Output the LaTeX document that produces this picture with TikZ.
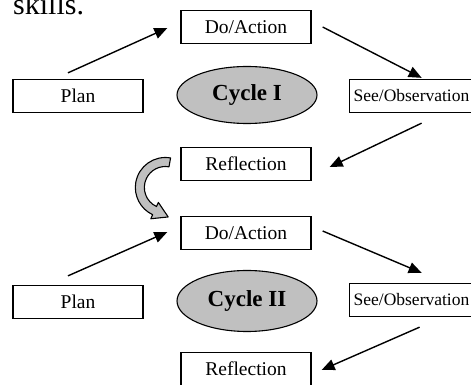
\documentclass[tikz,border=0pt]{standalone}
\usepackage{fontspec}
\setmainfont{Liberation Serif}
\usetikzlibrary{arrows.meta,shapes.geometric,calc}
\definecolor{shade}{HTML}{C0C0C0}
\tikzset{
  stage/.style={draw=black, line width=1.3pt, minimum width=130pt, minimum height=33pt, inner sep=2pt, font=\fontsize{19.5}{21}\selectfont},
  seen/.style ={stage, anchor=west, text width=124pt, align=left, inner xsep=4pt, font=\fontsize{17.5}{19}\selectfont},
  cyc/.style ={ellipse, draw=black, line width=1.1pt, fill=shade, minimum width=140pt, minimum height=57pt, inner sep=0pt, font=\fontsize{23}{25}\selectfont\bfseries},
  edge/.style={-{Triangle[length=13pt,width=11pt]}, line width=1.4pt},
  turn/.style={fill=shade, draw=black, line width=1.1pt, line join=round},
}
\begin{document}
\begin{tikzpicture}[x=1pt,y=1pt]
        \useasboundingbox (0,0) rectangle (471,385);
        \clip (0,0) rectangle (471,385);
        \node[anchor=base west, inner sep=0pt, font=\fontsize{30}{32}\selectfont] (head) at (13,370) {skills.};
        % cycle I
        \node[stage] (D1) at (246,358) {Do/Action};
        \node[stage] (P1) at (78,289)  {Plan};
        \node[cyc]   (C1) at (247,290) {Cycle I};
        \node[seen]  (S1) at (349,289) {See/Observation};
        \node[stage] (R1) at (246,221) {Reflection};
        % cycle II
        \node[stage] (D2) at (246,152) {Do/Action};
        \node[stage] (P2) at (78,83)   {Plan};
        \node[cyc,minimum height=61pt] (C2) at (247,84) {Cycle II};
        \node[seen]  (S2) at (349,85) {See/Observation};
        \node[stage] (R2) at (246,16)  {Reflection};
        \draw[edge] ([shift={(-10,6)}]P1.north) -- ([shift={(-13,-1)}]D1.west);
        \draw[edge] ([shift={(11,0)}]D1.east) -- ([shift={(6,1)}]S1.north);
        \draw[edge] ([shift={(6,-10)}]S1.south) -- ([shift={(18,-3)}]R1.east);
        \draw[edge] ([shift={(-10,9)}]P2.north) -- ([shift={(-13,1)}]D2.west);
        \draw[edge] ([shift={(11,2)}]D2.east) -- ([shift={(6,10)}]S2.north);
        \draw[edge] ([shift={(4,-10)}]S2.south) -- ([shift={(10,-1)}]R2.east);
        % turn from cycle I to cycle II
        \coordinate (rc) at ($(R1.west)!0.5!(D2.west)+(-15,11)$);
        \draw[turn] ($(rc)+(80:30)$) arc[start angle=80, end angle=245, radius=30]
          -- ($(rc)+(245:34.5)$) -- ($(rc)+(245:25.5)+(-25:15)$) -- ($(rc)+(245:16.5)$)
          -- ($(rc)+(245:21)$) arc[start angle=245, end angle=80, radius=21] -- cycle;
      \end{tikzpicture}
\end{document}
